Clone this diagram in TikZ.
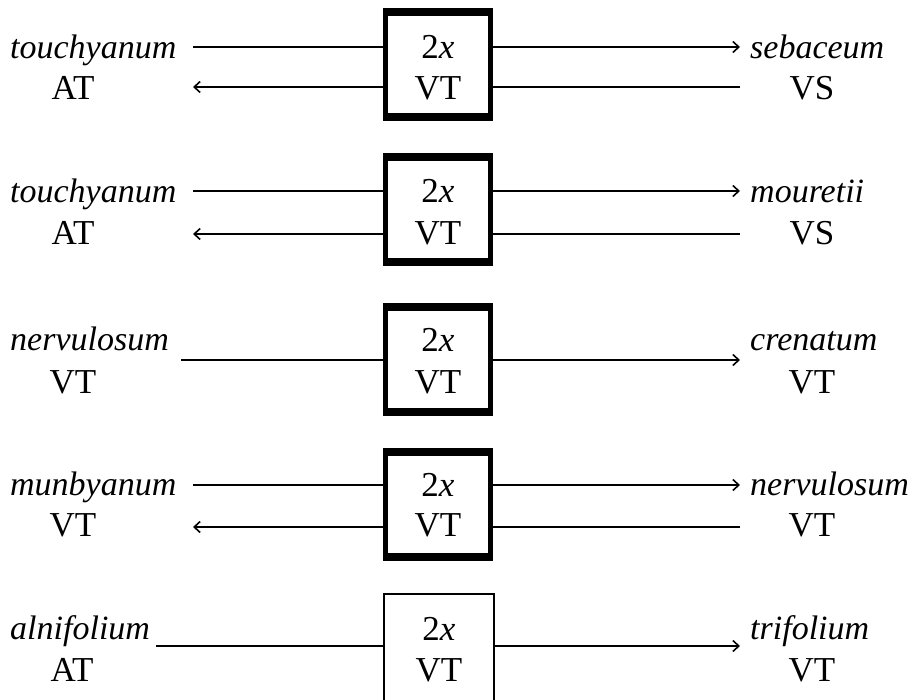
\documentclass[tikz,border=0pt]{standalone}
\usepackage{fontspec}
\setmainfont{Liberation Serif}
\usetikzlibrary{arrows.meta}
\tikzset{
  lbl/.style={inner sep=0pt, font=\fontsize{35}{41}\selectfont},
  ital/.style={inner sep=0pt, font=\fontsize{34}{41}\selectfont\itshape},
  boxn/.style={draw=none, minimum width=105pt, minimum height=105pt, inner sep=0pt},
  sideedge/.style={line width=5pt},
  thickedge/.style={line width=8pt},
  thinbox/.style={line width=2pt},
  conn/.style={line width=2pt},
  arr/.style={conn, -{Straight Barb[length=6pt,width=11pt,line width=1.6pt]}},
}
\begin{document}
\begin{tikzpicture}[x=1pt,y=-1pt]
\useasboundingbox (0,0) rectangle (912,700);

% ---------- Row 1 (top 8) ----------
\node[boxn] (B1) at (438,64.5) {};
\draw[sideedge] (B1.south west) rectangle (B1.north east);
\draw[thickedge] ([xshift=-2.5pt]B1.north west) -- ([xshift=2.5pt]B1.north east);
\draw[thickedge] ([xshift=-2.5pt]B1.south west) -- ([xshift=2.5pt]B1.south east);
\node[lbl,anchor=base] (B1a) at (438,59) {2\textit{x}};
\node[lbl,anchor=base] (B1b) at (438,100) {VT};
\node[ital,anchor=base west] (L1a) at (10,59) {touchyanum};
\node[lbl,anchor=base] (L1b) at (73,100) {AT};
\node[ital,anchor=base west] (R1a) at (750,59) {sebaceum};
\node[lbl,anchor=base] (R1b) at (812,100) {VS};
\coordinate (p1a) at (193,47);
\coordinate (p1b) at (193,87);
\coordinate (q1a) at (740,47);
\coordinate (q1b) at (740,87);
\draw[conn] (p1a) -- (p1a -| B1.west);
\draw[arr] (q1a -| B1.east) -- (q1a);
\draw[arr] (p1b -| B1.west) -- (p1b);
\draw[conn] (q1b) -- (q1b -| B1.east);

% ---------- Row 2 (top 153) ----------
\node[boxn] (B2) at (438,209.5) {};
\draw[sideedge] (B2.south west) rectangle (B2.north east);
\draw[thickedge] ([xshift=-2.5pt]B2.north west) -- ([xshift=2.5pt]B2.north east);
\draw[thickedge] ([xshift=-2.5pt]B2.south west) -- ([xshift=2.5pt]B2.south east);
\node[lbl,anchor=base] (B2a) at (438,203) {2\textit{x}};
\node[lbl,anchor=base] (B2b) at (438,245) {VT};
\node[ital,anchor=base west] (L2a) at (10,203) {touchyanum};
\node[lbl,anchor=base] (L2b) at (73,245) {AT};
\node[ital,anchor=base west] (R2a) at (750,203) {mouretii};
\node[lbl,anchor=base] (R2b) at (812,245) {VS};
\coordinate (p2a) at (193,191);
\coordinate (p2b) at (193,234);
\coordinate (q2a) at (740,191);
\coordinate (q2b) at (740,234);
\draw[conn] (p2a) -- (p2a -| B2.west);
\draw[arr] (q2a -| B2.east) -- (q2a);
\draw[arr] (p2b -| B2.west) -- (p2b);
\draw[conn] (q2b) -- (q2b -| B2.east);

% ---------- Row 3 (top 303) ----------
\node[boxn] (B3) at (438,359.5) {};
\draw[sideedge] (B3.south west) rectangle (B3.north east);
\draw[thickedge] ([xshift=-2.5pt]B3.north west) -- ([xshift=2.5pt]B3.north east);
\draw[thickedge] ([xshift=-2.5pt]B3.south west) -- ([xshift=2.5pt]B3.south east);
\node[lbl,anchor=base] (B3a) at (438,351) {2\textit{x}};
\node[lbl,anchor=base] (B3b) at (438,393) {VT};
\node[ital,anchor=base west] (L3a) at (10,350) {nervulosum};
\node[lbl,anchor=base] (L3b) at (73,393) {VT};
\node[ital,anchor=base west] (R3a) at (750,350) {crenatum};
\node[lbl,anchor=base] (R3b) at (812,393) {VT};
\coordinate (p3) at (181,360);
\coordinate (q3) at (740,360);
\draw[conn] (p3) -- (p3 -| B3.west);
\draw[arr] (q3 -| B3.east) -- (q3);

% ---------- Row 4 (top 448) ----------
\node[boxn] (B4) at (438,504.5) {};
\draw[sideedge] (B4.south west) rectangle (B4.north east);
\draw[thickedge] ([xshift=-2.5pt]B4.north west) -- ([xshift=2.5pt]B4.north east);
\draw[thickedge] ([xshift=-2.5pt]B4.south west) -- ([xshift=2.5pt]B4.south east);
\node[lbl,anchor=base] (B4a) at (438,496) {2\textit{x}};
\node[lbl,anchor=base] (B4b) at (438,536) {VT};
\node[ital,anchor=base west] (L4a) at (10,495) {munbyanum};
\node[lbl,anchor=base] (L4b) at (73,536) {VT};
\node[ital,anchor=base west] (R4a) at (750,495) {nervulosum};
\node[lbl,anchor=base] (R4b) at (812,536) {VT};
\coordinate (p4a) at (193,485);
\coordinate (p4b) at (193,527);
\coordinate (q4a) at (740,485);
\coordinate (q4b) at (740,527);
\draw[conn] (p4a) -- (p4a -| B4.west);
\draw[arr] (q4a -| B4.east) -- (q4a);
\draw[arr] (p4b -| B4.west) -- (p4b);
\draw[conn] (q4b) -- (q4b -| B4.east);

% ---------- Row 5 (top 593, thin box running off the page) ----------
\node[boxn, minimum width=109pt, minimum height=115pt] (B5) at (439,651.5) {};
\draw[thinbox] (B5.south west) rectangle (B5.north east);
\node[lbl,anchor=base] (B5a) at (439,640) {2\textit{x}};
\node[lbl,anchor=base] (B5b) at (439,681) {VT};
\node[ital,anchor=base west] (L5a) at (10,639) {alnifolium};
\node[lbl,anchor=base] (L5b) at (72,681) {AT};
\node[ital,anchor=base west] (R5a) at (750,639) {trifolium};
\node[lbl,anchor=base] (R5b) at (812,681) {VT};
\coordinate (p5) at (156,646);
\coordinate (q5) at (740,646);
\draw[conn] (p5) -- (p5 -| B5.west);
\draw[arr] (q5 -| B5.east) -- (q5);
\end{tikzpicture}
\end{document}
